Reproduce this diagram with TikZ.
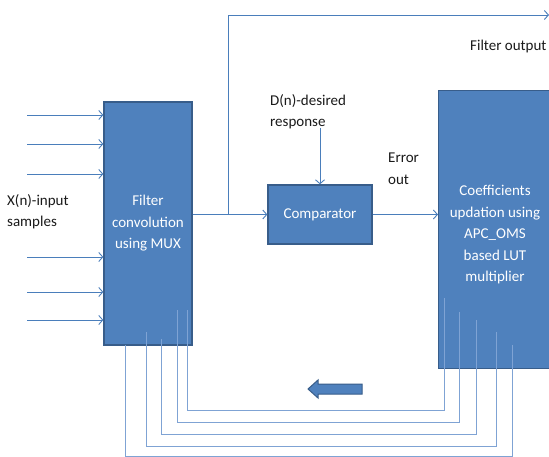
\documentclass[tikz,border=0pt]{standalone}
\usepackage{fontspec}
\setmainfont{Carlito}
\usepackage{tikz}
\usetikzlibrary{arrows.meta, positioning}
\definecolor{boxFill}{HTML}{4F81BD}
\definecolor{boxEdge}{HTML}{385D8A}
\definecolor{wireBlue}{HTML}{4A7EBB}
\definecolor{loopBlue}{HTML}{7FA3D4}
\definecolor{labelInk}{HTML}{1A1A1A}

\begin{document}
\begin{tikzpicture}[
    x=1pt, y=-1pt,
    block/.style={draw=boxEdge, fill=boxFill, line width=1.3pt,
                  text=white, align=center, inner sep=0pt,
                  font=\fontsize{15}{21.5}\selectfont},
    label/.style={text=labelInk, align=left, anchor=north west,
                  inner sep=0pt, font=\fontsize{15}{21.5}\selectfont},
    arrow/.style={draw=wireBlue, line width=0.9pt,
                  -{Straight Barb[length=4pt, width=9pt]}},
    wire/.style={draw=loopBlue, line width=0.9pt},
]
\clip (0,0) rectangle (549,457);
\fill[white] (0,0) rectangle (549,457);

\node[block, minimum width=88pt, minimum height=243pt] (filter) at (148,223.5)
    {Filter\\convolution\\using MUX};
\node[block, minimum width=104pt, minimum height=59pt] (comparator) at (320,214.5)
    {Comparator};
\node[block, minimum width=116pt, minimum height=278pt, text width=110pt,
      anchor=north west] (coeff) at (438,90) {};
\node[text=white, align=center, inner sep=0pt,
      font=\fontsize{15}{21.5}\selectfont] (coefftext) at (495,235)
    {Coefficients\\updation using\\APC\_OMS\\based LUT\\multiplier};

\node[label] (xlabel) at (7,194) {X(n)-input\\samples};
\node[label] (dlabel) at (270,94) {D(n)-desired\\response};
\node[label] (errlabel) at (388,153) {Error\\out};
\node[label] (outlabel) at (470,40) {Filter output};

\foreach \y [count=\i] in {115,144,174,257,292,320} {
    \coordinate (in\i) at (27,\y);
    \draw[arrow] (in\i) -- (in\i -| filter.west);
}

\coordinate (branch) at (228,214.5);
\coordinate (outend) at (549,15);
\coordinate (dstart) at (320,128);
\draw[arrow] (filter.east |- comparator.west) -- (comparator.west);
\draw[arrow] (branch) |- (outend);
\draw[arrow] (dstart) -- (comparator.north);
\draw[arrow] (comparator.east) -- (comparator.east -| coeff.west);

\foreach \xa/\ya/\xb/\yb/\yh in {125/345/512/345/456, 146/332/496/332/446,
                                 161/339/476/320/434, 177/310/459/312/422,
                                 187/310/444/298/410} {
    \draw[wire] (\xa,\ya) |- (\xb,\yh) -- (\xb,\yb);
}

\draw[draw=boxEdge, fill=boxFill, line width=1pt]
    (308,389) -- (318,380) -- (318,384) -- (362,384) -- (362,394)
    -- (318,394) -- (318,398) -- cycle;
\end{tikzpicture}
\end{document}
